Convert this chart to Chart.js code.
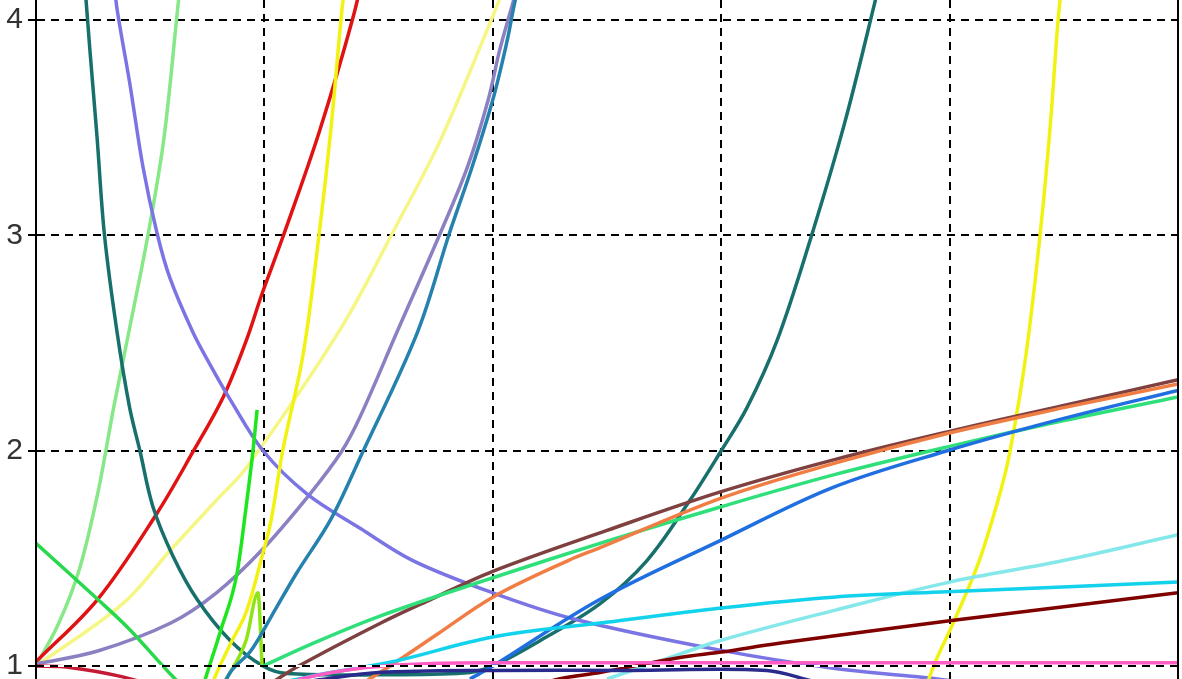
<!DOCTYPE html>
<html>
<head>
<meta charset="utf-8">
<script src="https://cdn.jsdelivr.net/npm/chart.js@4/dist/chart.umd.min.js"></script>
<style>
  html, body { margin: 0; padding: 0; background: #ffffff; overflow: hidden; }
  canvas { display: block; }
</style>
</head>
<body>
<canvas id="c" width="1182" height="679"></canvas>
<script>
// Axis ticks
const xTickVals = [0, 1, 2, 3, 4, 5];
const yTickVals = [1, 2, 3, 4];
const yTickLabels = ['1', '2', '3', '4'];

// Curves: x positions and y values for each series
const paleGreenX = [0, 0.1, 0.19, 0.27, 0.34, 0.41, 0.49, 0.56, 0.62, 0.65];
const paleGreenY = [1.0, 1.2, 1.45, 1.8, 2.2, 2.57, 3.0, 3.45, 4.05, 4.35];

const redX = [0, 0.27, 0.53, 0.69, 0.82, 0.92, 0.99, 1.08, 1.24, 1.39, 1.45];
const redY = [1.02, 1.31, 1.71, 2.0, 2.25, 2.51, 2.73, 2.99, 3.48, 4.02, 4.3];

const paleYellowX = [0, 0.38, 0.59, 0.79, 0.92, 1.33, 1.59, 1.77, 1.97, 2.05];
const paleYellowY = [1.0, 1.29, 1.54, 1.77, 1.92, 2.56, 3.07, 3.44, 3.94, 4.15];

const lavenderX = [0, 0.27, 0.59, 0.79, 0.99, 1.20, 1.34, 1.42, 1.58, 1.77, 1.89, 1.98, 2.03, 2.08, 2.12];
const lavenderY = [1.01, 1.07, 1.20, 1.34, 1.54, 1.80, 2.0, 2.16, 2.55, 3.01, 3.32, 3.63, 3.86, 4.05, 4.2];

const tealX = [0.215, 0.236, 0.267, 0.30, 0.355, 0.41, 0.455, 0.512, 0.60, 0.705, 0.849, 0.994, 1.10, 1.50, 1.90, 2.02, 2.21, 2.47, 2.675, 2.863, 3.0, 3.113, 3.244, 3.39, 3.54, 3.67, 3.72];
const tealY = [4.15, 3.86, 3.46, 3.0, 2.55, 2.20, 2.0, 1.74, 1.51, 1.31, 1.12, 1.0, 0.965, 0.96, 0.97, 1.01, 1.12, 1.29, 1.49, 1.77, 2.0, 2.2, 2.51, 2.98, 3.52, 4.07, 4.3];

const slateX = [0.34, 0.355, 0.41, 0.468, 0.53, 0.587, 0.687, 0.762, 0.849, 0.994, 1.186, 1.419, 1.65, 2.0, 2.35, 2.995, 3.49, 3.86, 4.1];
const slateY = [4.2, 4.05, 3.71, 3.32, 3.01, 2.80, 2.55, 2.40, 2.24, 2.0, 1.80, 1.64, 1.49, 1.34, 1.22, 1.074, 0.99, 0.95, 0.92];

const greenX = [0, 0.27, 0.41, 0.6, 0.8];
const greenY = [1.57, 1.31, 1.17, 0.95, 0.75];

const yellowX = [0.70, 0.78, 0.85, 0.92, 0.99, 1.03, 1.08, 1.17, 1.24, 1.29, 1.34, 1.37];
const yellowY = [0.7, 0.94, 1.1, 1.25, 1.51, 1.68, 2.0, 2.45, 3.01, 3.48, 4.05, 4.3];

const limeX = [0.70, 0.75, 0.81, 0.88, 0.92, 0.95, 0.968];
const limeY = [0.8, 0.97, 1.17, 1.43, 1.74, 2.0, 2.19];

const chartreuseX = [0.75, 0.85, 0.92, 0.972, 0.99];
const chartreuseY = [0.8, 0.97, 1.12, 1.34, 1.0];

const steelX = [0.75, 0.85, 0.94, 1.03, 1.14, 1.29, 1.42, 1.67, 1.81, 1.91, 2.0, 2.06, 2.09, 2.12];
const steelY = [0.75, 0.97, 1.07, 1.23, 1.43, 1.68, 1.97, 2.55, 3.01, 3.32, 3.63, 3.89, 4.05, 4.2];

const brownX = [1.0, 1.15, 1.51, 1.73, 2.0, 2.5, 3.0, 3.5, 4.0, 4.5, 5.0];
const brownY = [0.9, 1.0, 1.2, 1.31, 1.44, 1.63, 1.81, 1.96, 2.09, 2.21, 2.33];

const springX = [0.994, 1.2, 1.5, 2.0, 2.5, 3.0, 3.5, 4.0, 4.5, 5.0];
const springY = [1.0, 1.10, 1.23, 1.41, 1.58, 1.74, 1.89, 2.02, 2.14, 2.25];

const orangeX = [1.4, 1.55, 1.76, 2.0, 2.33, 2.47, 3.0, 3.49, 3.99, 4.5, 5.0];
const orangeY = [0.9, 1.0, 1.15, 1.32, 1.49, 1.55, 1.78, 1.94, 2.08, 2.2, 2.31];

const blueX = [1.9, 2.0, 2.47, 3.0, 3.49, 3.99, 4.5, 5.0];
const blueY = [0.94, 1.0, 1.31, 1.585, 1.83, 2.0, 2.15, 2.28];

const paleCyanX = [2.5, 2.75, 3.0, 3.5, 4.0, 4.5, 5.0];
const paleCyanY = [0.94, 1.03, 1.12, 1.26, 1.39, 1.49, 1.61];

const cyanX = [1.1, 1.29, 1.56, 2.0, 2.47, 3.0, 3.49, 3.99, 5.0];
const cyanY = [0.93, 0.97, 1.02, 1.135, 1.20, 1.27, 1.32, 1.345, 1.39];

const maroonX = [2.0, 2.29, 2.47, 2.82, 3.0, 3.26, 4.0, 5.0];
const maroonY = [0.85, 0.94, 0.97, 1.04, 1.065, 1.107, 1.21, 1.34];

const crimsonX = [0, 0.14, 0.38, 0.6];
const crimsonY = [1.0, 0.995, 0.95, 0.88];

const pinkX = [1.1, 1.16, 1.42, 1.68, 2.0, 5.0];
const pinkY = [0.9, 0.94, 0.99, 1.01, 1.015, 1.015];

const navyX = [1.2, 1.5, 2.0, 2.6, 3.2, 3.4];
const navyY = [0.93, 0.97, 0.98, 0.98, 0.98, 0.93];

const yellow2X = [3.85, 3.93, 4.02, 4.13, 4.22, 4.265, 4.335, 4.396, 4.44, 4.475, 4.5];
const yellow2Y = [0.75, 1.0, 1.21, 1.49, 1.80, 2.0, 2.45, 3.0, 3.5, 4.0, 4.25];

function pts(xs, ys) { return xs.map((x, i) => ({ x: x, y: ys[i] })); }
function series(xs, ys, color, mono) {
  const ds = {
    data: pts(xs, ys),
    borderColor: color,
    borderWidth: 3.5,
    pointRadius: 0,
    fill: false,
    tension: 0.35
  };
  if (mono) ds.cubicInterpolationMode = 'monotone';
  return ds;
}

const datasets = [
  series(crimsonX, crimsonY, '#c41a34'),
  series(pinkX, pinkY, '#ff5cc4'),
  series(navyX, navyY, '#2a2a8c'),
  series(maroonX, maroonY, '#800000'),
  series(cyanX, cyanY, '#12d2ec'),
  series(paleCyanX, paleCyanY, '#84e8ea'),
  series(blueX, blueY, '#1f6fe0'),
  series(orangeX, orangeY, '#f07e44'),
  series(springX, springY, '#2fe07a'),
  series(brownX, brownY, '#7f4040'),
  series(steelX, steelY, '#2581ae'),
  series(chartreuseX, chartreuseY, '#8ee414', true),
  series(limeX, limeY, '#1ee61e', true),
  series(yellowX, yellowY, '#f2f212'),
  series(yellow2X, yellow2Y, '#f2f212'),
  series(greenX, greenY, '#2ad84e'),
  series(slateX, slateY, '#7b74e4'),
  series(tealX, tealY, '#17706c'),
  series(lavenderX, lavenderY, '#8a80c2'),
  series(paleYellowX, paleYellowY, '#f6f684'),
  series(redX, redY, '#e01212'),
  series(paleGreenX, paleGreenY, '#86e886')
];

// Right frame line and the y=1 reference line drawn over the curves
const framePlugin = {
  id: 'frame',
  afterDatasetsDraw(chart) {
    const { ctx, chartArea } = chart;
    const ys = chart.scales.y;
    const yBase = ys.getPixelForValue(yTickVals[0]);
    ctx.save();
    ctx.lineWidth = 2;
    ctx.strokeStyle = '#ffffff';
    ctx.setLineDash([]);
    ctx.beginPath();
    ctx.moveTo(chartArea.left, yBase);
    ctx.lineTo(chartArea.right, yBase);
    ctx.stroke();
    ctx.strokeStyle = '#000000';
    ctx.setLineDash([8, 6]);
    ctx.beginPath();
    ctx.moveTo(chartArea.left, yBase);
    ctx.lineTo(chartArea.right, yBase);
    ctx.stroke();
    ctx.setLineDash([]);
    ctx.beginPath();
    ctx.moveTo(chartArea.right, chartArea.top);
    ctx.lineTo(chartArea.right, chartArea.bottom);
    ctx.stroke();
    ctx.beginPath();
    ctx.moveTo(chartArea.left, chartArea.top);
    ctx.lineTo(chartArea.left, chartArea.bottom);
    ctx.stroke();
    ctx.restore();
  }
};

new Chart(document.getElementById('c'), {
  type: 'line',
  data: { datasets: datasets },
  plugins: [framePlugin],
  options: {
    responsive: false,
    animation: false,
    devicePixelRatio: 1,
    parsing: false,
    normalized: true,
    layout: { padding: { left: 0, right: 4, top: 0, bottom: 0 } },
    plugins: { legend: { display: false }, tooltip: { enabled: false } },
    scales: {
      x: {
        type: 'linear',
        min: xTickVals[0],
        max: xTickVals[xTickVals.length - 1],
        afterBuildTicks(scale) { scale.ticks = xTickVals.map(v => ({ value: v })); },
        afterFit(scale) { scale.height = 0; scale.paddingLeft = 0; scale.paddingRight = 0; },
        ticks: { display: false },
        grid: { color: '#000000', lineWidth: 2, drawTicks: false },
        border: { display: false, dash: [8, 6] }
      },
      y: {
        type: 'linear',
        min: 0.94,
        max: 4.093,
        afterBuildTicks(scale) { scale.ticks = yTickVals.map(v => ({ value: v })); },
        afterFit(scale) { scale.width = 36; scale.paddingTop = 0; scale.paddingBottom = 0; },
        ticks: {
          padding: 5,
          color: '#333333',
          font: { family: 'Liberation Sans', size: 30 },
          callback: (v, i) => yTickLabels[i]
        },
        grid: { color: '#000000', lineWidth: 2, tickLength: 8, tickColor: '#000000', tickWidth: 2 },
        border: { display: true, color: '#000000', width: 2, dash: [8, 6] }
      }
    }
  }
});
</script>
</body>
</html>
